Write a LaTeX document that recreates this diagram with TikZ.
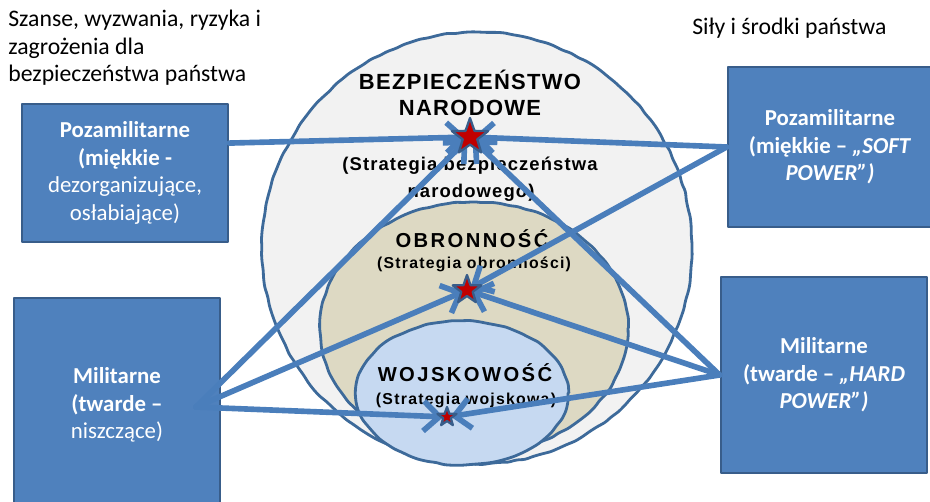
\documentclass[tikz,border=0pt]{standalone}
\usepackage{fontspec}
\setmainfont{Carlito}
\newfontfamily\arialfont{Liberation Sans}
\usetikzlibrary{shapes.geometric,arrows.meta,decorations.pathmorphing}
\definecolor{boxblue}{HTML}{4F81BD}
\definecolor{boxedge}{HTML}{385D8A}
\definecolor{ringedge}{HTML}{3D6A9A}
\definecolor{outerfill}{HTML}{F2F2F2}
\definecolor{midfill}{HTML}{DDD9C3}
\definecolor{innerfill}{HTML}{C6D9F1}
\definecolor{arrblue}{HTML}{4A7EBB}
\definecolor{starred}{HTML}{C00000}
\begin{document}
\begin{tikzpicture}[x=0.02cm,y=-0.02cm,line join=round,line cap=round,
	ring/.style={draw=ringedge,line width=1.6pt,decorate,decoration={random steps,segment length=5pt,amplitude=0.4pt},rounded corners=1.5pt},
	box/.style={draw=boxedge,line width=1.6pt,fill=boxblue,text=white,align=center,inner sep=2pt,font=\fontsize{13}{15.6}\selectfont},
	headA/.style={font=\arialfont\bfseries\fontsize{12.5}{15}\selectfont\addfontfeature{LetterSpace=6}},
	headB/.style={font=\arialfont\bfseries\fontsize{11.5}{14}\selectfont\addfontfeature{LetterSpace=12}},
	stratA/.style={font=\arialfont\bfseries\fontsize{10.5}{13}\selectfont\addfontfeature{LetterSpace=6}},
	stratB/.style={font=\arialfont\bfseries\fontsize{9}{11}\selectfont\addfontfeature{LetterSpace=8}},
	caption/.style={align=left,anchor=west,inner sep=0pt,font=\fontsize{13.5}{15.6}\selectfont},
	arr/.style={draw=arrblue,line width=3.2pt,-{Straight Barb[length=9pt,width=17pt]},shorten >=2pt},
	redstar/.style={star,star points=5,star point ratio=2.5,fill=starred,draw=boxedge,line width=1.3pt,inner sep=0pt}]
	\pgfmathsetseed{7}
	\clip (0,0) rectangle (930,501);
	\draw[ring,fill=outerfill] (477,248) ellipse (215 and 216);
	\draw[ring,fill=midfill] (474,328) ellipse (154 and 126);
	\draw[ring,fill=innerfill] (462,393) ellipse (106 and 72);
	\node[caption] (risk) at (8,48) {Szanse, wyzwania, ryzyka i\\zagrożenia dla\\bezpieczeństwa państwa};
	\node[caption] (power) at (692,28) {Siły i środki państwa};
	\node[headA] (bez1) at (470,80) {BEZPIECZEŃSTWO};
	\node[headA] (bez2) at (470,108) {NARODOWE};
	\node[stratA] (bez3) at (470,166) {(Strategia bezpieczeństwa};
	\node[stratA] (bez4) at (471,193) {narodowego)};
	\node[headB] (obr1) at (472,239) {OBRONNOŚĆ};
	\node[stratB] (obr2) at (474,264) {(Strategia obronności)};
	\node[headB] (woj1) at (465,373) {WOJSKOWOŚĆ};
	\node[stratB] (woj2) at (466,400) {(Strategia wojskowa)};
	\node[box,minimum width=4.12cm,minimum height=2.76cm] (softl) at (125,173)
		{\textbf{Pozamilitarne}\\\textbf{(miękkie -}\\dezorganizujące,\\osłabiające)};
	\node[box,minimum width=4.12cm,minimum height=4.28cm] (hardl) at (117,405)
		{\textbf{Militarne}\\\textbf{(twarde –}\\niszczące)};
	\node[box,minimum width=4.08cm,minimum height=3.2cm] (softr) at (830,147)
		{\textbf{Pozamilitarne}\\\textbf{(miękkie – \textit{„SOFT}}\\\textbf{\textit{POWER”)}}};
	\node[box,minimum width=4.12cm,minimum height=3.92cm] (hardr) at (824,375)
		{\textbf{Militarne}\\\textbf{(twarde – \textit{„HARD}}\\\textbf{\textit{POWER”)}}};
	\coordinate (c1) at (470,137);
	\coordinate (c2) at (467,290);
	\coordinate (c3) at (447,417);
	\coordinate (hsrc) at (196,407);
	\draw[arr] (softl.16) -- (c1);
	\draw[arr] (softr.west) -- (c1);
	\draw[arr] (softr.west) -- (c2);
	\draw[arr] (hsrc) -- (c1);
	\draw[arr] (hsrc) -- (c2);
	\draw[arr] (hsrc) -- (c3);
	\draw[arr] (hardr.west) -- (c1);
	\draw[arr] (hardr.west) -- (c2);
	\draw[arr] (hardr.west) -- (c3);
	\node[redstar,minimum size=0.76cm] (s1) at (c1) {};
	\node[redstar,minimum size=0.6cm] (s2) at (c2) {};
	\node[redstar,minimum size=0.4cm] (s3) at (c3) {};
\end{tikzpicture}
\end{document}
